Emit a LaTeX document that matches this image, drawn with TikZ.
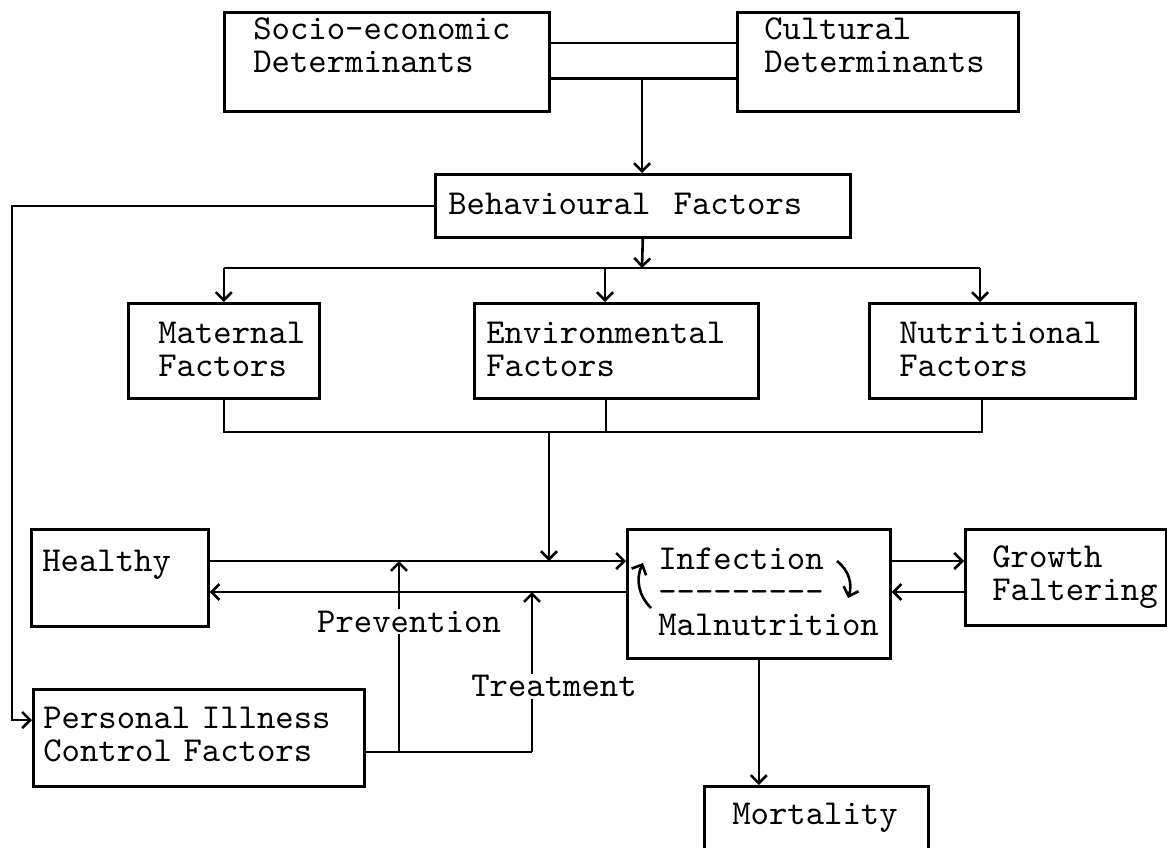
\documentclass[tikz,border=0pt]{standalone}
\usepackage{fontspec}
\newfontfamily\diagfont{lmmono10-regular.otf}[Ligatures=TeXOff]
\newcommand{\boxfont}{\diagfont\fontsize{35pt}{33pt}\selectfont}
\usetikzlibrary{arrows.meta}

\begin{document}
\begin{tikzpicture}[x=1pt,y=-1pt,line width=2.6pt]
        \tikzset{box/.style = {draw,anchor=north west,align=left,inner sep=0pt,font=\boxfont}}
        \tikzset{boxsize/.style n args = {4}{text width=#1pt,text height=#3pt,text depth=#4pt,execute at begin node={\leftskip=#2pt}}}
        \tikzset{tag/.style = {fill=white,anchor=base,inner sep=2pt,font=\boxfont}}
        \tikzset{edge/.style = {-{Straight Barb[length=8pt,width=16pt]}}}
        \useasboundingbox (0,0) rectangle (1167,847);
        % boxes: width, left pad, height above first baseline, rest of height
        \node[box,boxsize={325}{29}{27}{72}] (socio) at (223,11) {Socio-economic\\Determinants};
        \node[box,boxsize={281}{27}{27}{72}] (cultural) at (736,11) {Cultural\\Determinants};
        \node[box,boxsize={415}{13}{40}{23}] (behav) at (434,173) {Behavioural~~Factors};
        \node[box,boxsize={191}{30}{40}{55}] (maternal) at (127,302) {Maternal\\Factors};
        \node[box,boxsize={284}{12}{40}{55}] (env) at (473,302) {Environmental\\Factors};
        \node[box,boxsize={266}{30}{40}{55}] (nutri) at (868,302) {Nutritional\\Factors};
        \node[box,boxsize={177}{11}{42}{55}] (healthy) at (30,528) {Healthy};
        \node[box,boxsize={263}{31}{40}{89}] (infect) at (626,528) {Infection\\---------\\Malnutrition};
        \node[box,boxsize={201}{27}{38}{58}] (growth) at (964,528) {Growth\\Faltering};
        \node[box,boxsize={331}{10}{39}{58}] (personal) at (32,688) {Personal Illness\\Control Factors};
        \node[box,boxsize={224}{28}{38}{62}] (mortality) at (703,785) {Mortality};

        \coordinate (toplink) at (0,43);
        \coordinate (botlink) at (642,78.5);
        \coordinate (split) at (642,268);
        \coordinate (merge) at (549,432);
        \coordinate (rail) at (12,0);
        \coordinate (pin) at (0,720);
        \coordinate (upper) at (0,561);
        \coordinate (lower) at (0,592);
        \coordinate (pfork) at (399,752);
        \coordinate (tfork) at (532,752);

        \draw (socio.east |- toplink) -- (cultural.west |- toplink);
        \draw (socio.east |- botlink) -- (cultural.west |- botlink);
        \draw[edge] (botlink) -- (botlink |- behav.north);

        \draw[edge] (behav.west) -- (behav.west -| rail) |- (personal.west |- pin);

        \draw[edge] (behav.south) -- (split);
        \draw (split -| maternal.north) -- (split -| 980,0);
        \draw[edge] (split -| maternal.north) -- (maternal.north);
        \draw[edge] (split -| 605,0) -- (env.north -| 605,0);
        \draw[edge] (split -| 980,0) -- (nutri.north -| 980,0);

        \draw (maternal.south) -- (maternal.south |- merge) -- (merge -| 982,0) -- (nutri.south -| 982,0);
        \draw (env.south -| 606,0) -- (merge -| 606,0);
        \draw[edge] (merge) -- (merge |- upper);

        \draw[edge] (healthy.east |- upper) -- (infect.west |- upper);
        \draw[edge] (infect.west |- lower) -- (healthy.east |- lower);
        \draw[edge] (infect.east |- upper) -- (growth.west |- upper);
        \draw[edge] (growth.west |- lower) -- (infect.east |- lower);
        \draw[edge] (infect.south) -- (infect.south |- mortality.north);

        \draw[edge] ([shift={(25,80)}]infect.north west) to[bend left=35] ([shift={(17,35)}]infect.north west);
        \draw[edge] ([shift={(211,33)}]infect.north west) to[bend left=35] ([shift={(222,70)}]infect.north west);

        \draw (personal.east |- pfork) -- (tfork);
        \draw[edge] (pfork) -- node[tag,pos=0.628,xshift=10pt] {Prevention} (pfork |- upper);
        \draw[edge] (tfork) -- node[tag,pos=0.344,xshift=22pt] {Treatment} (tfork |- lower);
\end{tikzpicture}
\end{document}
